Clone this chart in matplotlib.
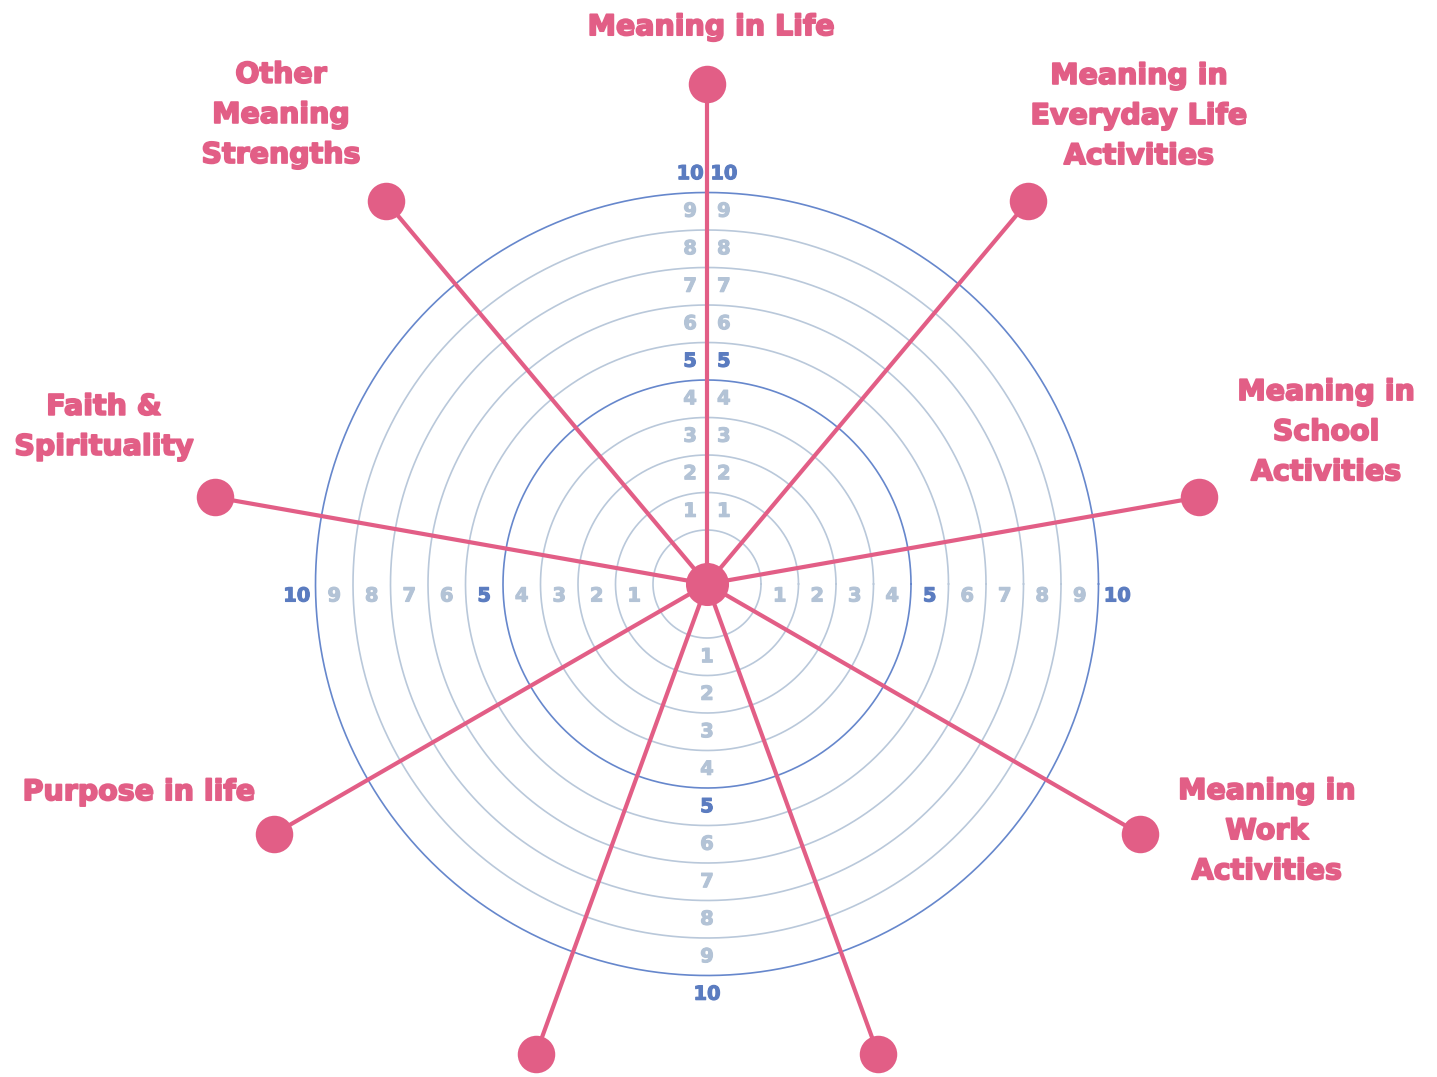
import numpy as np
import matplotlib.pyplot as plt
import matplotlib.patheffects as pe

# spokes, in order of angle (degrees, counter-clockwise from east)
labels = ["Meaning in Life", "Meaning in\nEveryday Life\nActivities", "Meaning in\nSchool\nActivities",
          "Meaning in\nWork\nActivities", "", "", "Purpose in life", "Faith &\nSpirituality",
          "Other\nMeaning\nStrengths"]
angles = [90, 50, 10, -30, -70, -110, -150, 170, 130]
levels = [1, 2, 3, 4, 5, 6, 7, 8, 9, 10]
major_levels = [5, 10]

# label anchor positions (data units)
label_pos = [(0.11, 14.85), (11.52, 12.48), (16.51, 4.05), (14.93, -6.59), None, None,
             (-15.15, -5.55), (-16.08, 4.19), (-11.36, 12.51)]

pink = "#e25e86"
dark_blue = "#6687cc"
light_blue = "#b9c8da"
tick_light = "#b3c3d6"
tick_dark = "#5b7cc0"

inner = 0.44      # hole in the middle: ring k sits at radius k + inner
spoke_len = 13.33
px = 37.5         # pixels per unit

fig = plt.figure(figsize=(14.37, 10.77), dpi=100)
ax = fig.add_axes([0, 0, 1, 1])
ax.set_xlim(-707 / px, (1437 - 707) / px)
ax.set_ylim(-(1077 - 584) / px, 584 / px)
ax.axis('off')

t = np.linspace(0, 2 * np.pi, 720)
for k in levels:
    r = k + inner
    col = dark_blue if k in major_levels else light_blue
    ax.plot(r * np.cos(t), r * np.sin(t), color=col, lw=1.2, zorder=1)

# tick numbers: up (both sides of the spoke), left, right, down
for k in levels:
    col = tick_dark if k in major_levels else tick_light
    r = k + inner + 0.5
    kw = dict(color=col, fontsize=14, fontweight='bold', family='DejaVu Sans',
              ha='center', va='center', zorder=2,
              path_effects=[pe.withStroke(linewidth=0.8, foreground=col)])
    ax.text(-0.45, r, str(k), **kw)
    ax.text(0.45, r, str(k), **kw)
    ax.text(-r, -0.32, str(k), **kw)
    ax.text(r, -0.32, str(k), **kw)
    ax.text(0, -r, str(k), **kw)

for a, lab, pos in zip(angles, labels, label_pos):
    th = np.deg2rad(a)
    x, y = spoke_len * np.cos(th), spoke_len * np.sin(th)
    ax.plot([0, x], [0, y], color=pink, lw=3, zorder=3, solid_capstyle='butt')
    ax.plot(x, y, 'o', color=pink, ms=27, mec='none', zorder=4)
    if pos is not None:
        ax.text(pos[0], pos[1], lab, color=pink, fontsize=20.5, fontweight='bold',
                family='DejaVu Sans', ha='center', va='center',
                linespacing=1.55, zorder=5,
                path_effects=[pe.withStroke(linewidth=1.3, foreground=pink)])

ax.plot(0, 0, 'o', color=pink, ms=31, mec='none', zorder=5)

fig.savefig("out.png", dpi=100, facecolor='white')
